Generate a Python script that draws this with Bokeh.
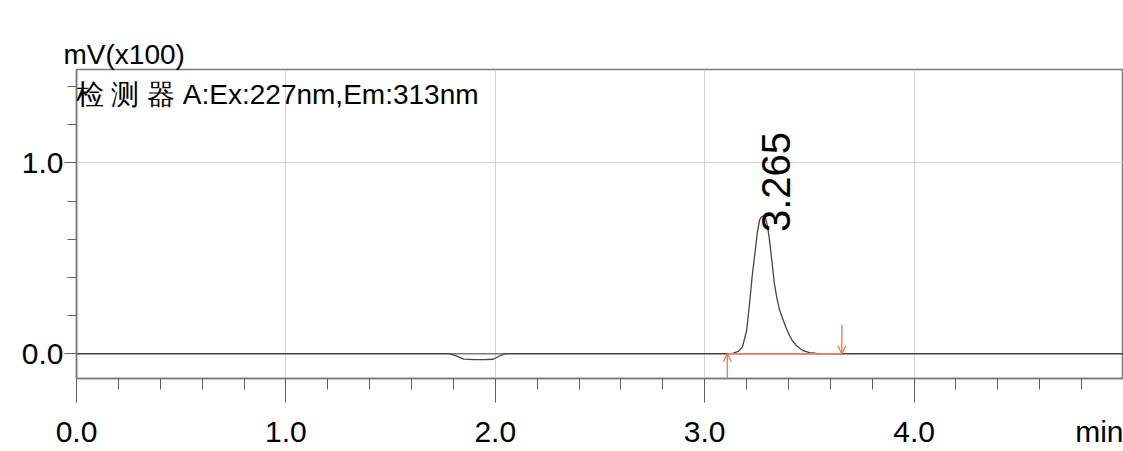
import math
from bokeh.plotting import figure
from bokeh.models import (FixedTicker, PrintfTickFormatter, Label, Span, Arrow,
                          OpenHead, ColumnDataSource, Range1d, LinearAxis)
from bokeh.core.properties import value
from bokeh.embed import file_html
from bokeh.resources import INLINE

# ---- data ----
time_min = [0.00, 0.50, 1.00, 1.50, 1.78, 1.81, 1.85, 1.90, 1.95, 1.99, 2.02, 2.05,
            2.50, 3.00, 3.10, 3.133, 3.16, 3.18, 3.20, 3.214, 3.228, 3.243, 3.252,
            3.262, 3.271, 3.280, 3.290, 3.300, 3.310, 3.319, 3.333, 3.345, 3.357,
            3.375, 3.391, 3.405, 3.419, 3.44, 3.467, 3.50, 3.534, 3.60, 4.00, 4.50, 5.00]
signal = [0.000, 0.000, 0.000, 0.000, 0.000, -0.010, -0.028, -0.031, -0.031, -0.029,
          -0.012, 0.000, 0.000, 0.000, 0.000, 0.002, 0.012, 0.035, 0.120, 0.262, 0.419,
          0.555, 0.640, 0.700, 0.718, 0.722, 0.712, 0.670, 0.590, 0.503, 0.366, 0.290,
          0.232, 0.175, 0.130, 0.095, 0.068, 0.040, 0.018, 0.006, 0.001, 0.000, 0.000,
          0.000, 0.000]

peak_rt = [3.265]
peak_height = [0.722]
peak_label = ["3.265"]
peak_start = [3.108]
peak_end = [3.655]

x_major_ticks = [0, 1, 2, 3, 4]
x_minor_ticks = [0.2, 0.4, 0.6, 0.8, 1.2, 1.4, 1.6, 1.8, 2.2, 2.4, 2.6, 2.8,
                 3.2, 3.4, 3.6, 3.8, 4.2, 4.4, 4.6, 4.8]
y_major_ticks = [0.0, 1.0]
y_minor_ticks = [0.2, 0.4, 0.6, 0.8, 1.2, 1.4]

y_unit_label = "mV(x100)"
detector_label = "检 测 器  A:Ex:227nm,Em:313nm"
x_unit_label = "min"
x_unit_label_pos = 4.93   # where the unit caption sits in the tick-label row

# ---- styling ----
FONT = "Liberation Sans"
AXIS_GRAY = "#7a7a7a"
GRID_GRAY = "#d4d4d4"
TRACE = "#454545"
ORANGE = "#f07c5c"

p = figure(width=1123, height=451, output_backend="svg", toolbar_location=None,
           x_range=Range1d(0, 5.0), y_range=Range1d(-0.13, 1.49),
           min_border_left=76, min_border_right=0, min_border_top=69,
           min_border_bottom=73)
p.background_fill_color = "white"
p.border_fill_color = "white"
p.outline_line_color = AXIS_GRAY
p.outline_line_width = 1.5

# title used as the y unit caption above the frame
p.title.text = y_unit_label
p.title.align = "left"
p.title.offset = -13
p.title.standoff = 0
p.title.text_font = FONT
p.title.text_font_size = "28px"
p.title.text_font_style = "normal"
p.title.text_color = "black"

# main axes (x: tick marks only; its labels are carried by a second axis row)
p.xaxis.ticker = FixedTicker(ticks=x_major_ticks, minor_ticks=x_minor_ticks)
p.yaxis.ticker = FixedTicker(ticks=y_major_ticks, minor_ticks=y_minor_ticks)
p.yaxis.formatter = PrintfTickFormatter(format="%.1f")
for ax in (p.xaxis[0], p.yaxis[0]):
    ax.axis_line_color = AXIS_GRAY
    ax.axis_line_width = 1.5
    ax.major_tick_line_color = "#606060"
    ax.minor_tick_line_color = "#606060"
    ax.major_tick_in = 0
    ax.minor_tick_in = 0
    ax.major_label_text_font = FONT
    ax.major_label_text_font_size = "30px"
    ax.major_label_text_color = "black"
p.xaxis.major_tick_out = 24
p.xaxis.minor_tick_out = 11
p.xaxis.major_label_standoff = 0
p.xaxis.major_label_overrides = {t: "" for t in x_major_ticks}
p.xaxis.major_label_text_font_size = "0px"
p.yaxis.major_tick_out = 12
p.yaxis.minor_tick_out = 9
p.yaxis.major_label_standoff = 1

# label row for the x axis, including the unit caption "min"
x_labels = LinearAxis(
    ticker=FixedTicker(ticks=x_major_ticks + [x_unit_label_pos], minor_ticks=[]),
    formatter=PrintfTickFormatter(format="%.1f"),
    major_label_overrides={x_unit_label_pos: x_unit_label},
    axis_line_color=None, major_tick_line_color=None, minor_tick_line_color=None,
    major_tick_out=0, major_tick_in=0, minor_tick_out=0, minor_tick_in=0,
    major_label_standoff=12, major_label_text_font=FONT,
    major_label_text_font_size="30px", major_label_text_color="black")
p.add_layout(x_labels, "below")

# grid
p.xgrid.ticker = FixedTicker(ticks=x_major_ticks)
p.ygrid.ticker = FixedTicker(ticks=y_major_ticks)
p.xgrid.grid_line_color = GRID_GRAY
p.ygrid.grid_line_color = GRID_GRAY

# zero line (under the trace)
p.add_layout(Span(location=0, dimension="width", line_color=AXIS_GRAY, line_width=1.5,
                  level="underlay"))

# trace
src = ColumnDataSource(dict(t=time_min, s=signal))
p.line("t", "s", source=src, line_color=TRACE, line_width=1.3)

# integration baseline and markers
p.segment(x0=peak_start, y0=[0] * len(peak_start), x1=peak_end, y1=[0] * len(peak_end),
          line_color=ORANGE, line_width=1.6)
ARROW_LEN = 0.15
for xs in peak_start:
    p.add_layout(Arrow(x_start=xs, y_start=-ARROW_LEN, x_end=xs, y_end=0,
                       line_color=ORANGE, line_width=1.4,
                       end=OpenHead(size=8, line_color=ORANGE, line_width=1.4)))
for xe in peak_end:
    p.add_layout(Arrow(x_start=xe, y_start=ARROW_LEN, x_end=xe, y_end=0,
                       line_color=ORANGE, line_width=1.4,
                       end=OpenHead(size=8, line_color=ORANGE, line_width=1.4)))

# peak label (rotated)
p.text(x=peak_rt, y=peak_height, text=peak_label, angle=math.pi / 2,
       text_align="left", text_baseline="middle", x_offset=16, y_offset=16,
       text_font=value(FONT), text_font_size="40px", text_color="black")

# detector caption inside the frame
p.add_layout(Label(x=0, y=1.49, text=detector_label, x_offset=-1, y_offset=-9,
                   text_baseline="top", text_align="left",
                   text_font=FONT, text_font_size="28px", text_color="black"))

open("out.html", "w").write(file_html(p, INLINE))
